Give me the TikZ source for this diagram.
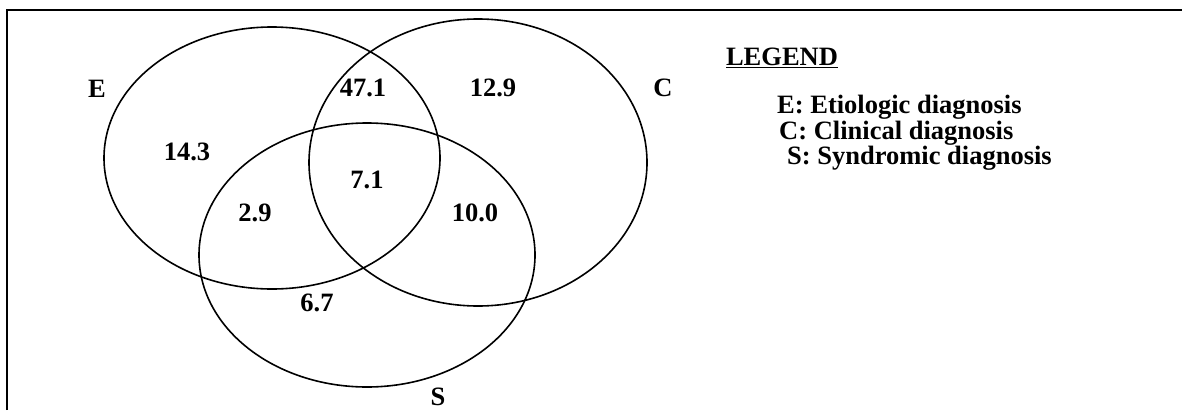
\documentclass[tikz,border=0pt]{standalone}
\usepackage{fontspec}
\setmainfont{Liberation Serif}
\usetikzlibrary{shapes.geometric}
\begin{document}
\begin{tikzpicture}[x=1pt,y=-1pt,
  venn/.style={ellipse,draw,line width=1.6pt,inner sep=0pt},
  lbl/.style={inner sep=0pt,font=\fontsize{26.5}{30}\selectfont\bfseries},
  leg/.style={inner sep=0pt,anchor=west,font=\fontsize{26.5}{30}\selectfont\bfseries}]
\useasboundingbox (0,0) rectangle (1182,410);
% frame
\coordinate (fb) at (7,410);
\coordinate (ftl) at (7,10);
\coordinate (fr) at (1182,10);
\draw[line width=2.5pt] (fb) -- (ftl) -- (fr);
% ellipses
\node[venn,minimum width=336pt,minimum height=262pt] (E) at (272,158) {};
\node[venn,minimum width=338pt,minimum height=287pt] (C) at (478,162.5) {};
\node[venn,minimum width=336pt,minimum height=264pt] (S) at (367,255) {};
% set labels
\node[lbl] (lE) at (97,89) {E};
\node[lbl] (lC) at (663,88) {C};
\node[lbl] (lS) at (438,397) {S};
% values
\node[lbl] (v471) at (363,88) {47.1};
\node[lbl] (v129) at (493,88) {12.9};
\node[lbl] (v143) at (187,152) {14.3};
\node[lbl] (v71) at (367,180) {7.1};
\node[lbl] (v29) at (255,213) {2.9};
\node[lbl] (v100) at (475,213) {10.0};
\node[lbl] (v67) at (317,303) {6.7};
% legend
\node[lbl] (leg) at (782,58) {\underline{LEGEND}};
\node[leg] (l1) at (777,107) {E: Etiologic diagnosis};
\node[leg] (l2) at (779,133) {C: Clinical diagnosis};
\node[leg] (l3) at (787,158) {S: Syndromic diagnosis};
\end{tikzpicture}
\end{document}
